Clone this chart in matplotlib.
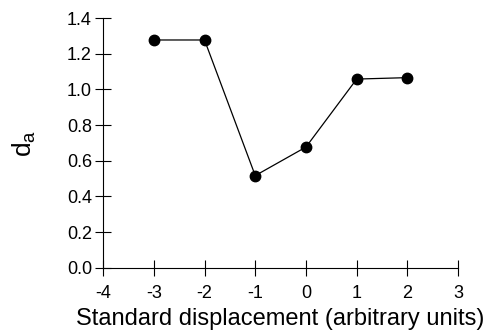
import matplotlib
matplotlib.use("Agg")
import matplotlib.pyplot as plt

# values
displacement = [-3, -2, -1, 0, 1, 2]
d_a = [1.277, 1.277, 0.517, 0.677, 1.058, 1.066]
xticks = [-4, -3, -2, -1, 0, 1, 2, 3]
yticks = [0.0, 0.2, 0.4, 0.6, 0.8, 1.0, 1.2, 1.4]

plt.rcParams['font.family'] = ['Liberation Sans', 'DejaVu Sans']
plt.rcParams['axes.unicode_minus'] = False

fig = plt.figure(figsize=(4.91, 3.34), dpi=100)
ax = fig.add_axes([0.21, 0.198, 0.723, 0.748])

ax.plot(displacement, d_a, color="black", lw=0.9, marker="o", ms=7.5)

ax.set_xlim(-4, 3)
ax.set_ylim(0, 1.4)
ax.set_xticks(xticks)
ax.set_yticks(yticks)
ax.set_yticklabels([f"{v:.1f}" for v in yticks])
ax.spines["top"].set_visible(False)
ax.spines["right"].set_visible(False)
for s in ["left", "bottom"]:
    ax.spines[s].set_linewidth(0.8)
ax.tick_params(direction="inout", length=11, width=0.8, labelsize=13)
ax.tick_params(axis="x", pad=7)
ax.tick_params(axis="y", pad=2.5)

ax.set_xlabel("Standard displacement (arbitrary units)", fontsize=17, labelpad=4)
ax.set_ylabel("d$_\\mathregular{a}$", fontsize=19, labelpad=21)

fig.savefig("out.png", dpi=100)
